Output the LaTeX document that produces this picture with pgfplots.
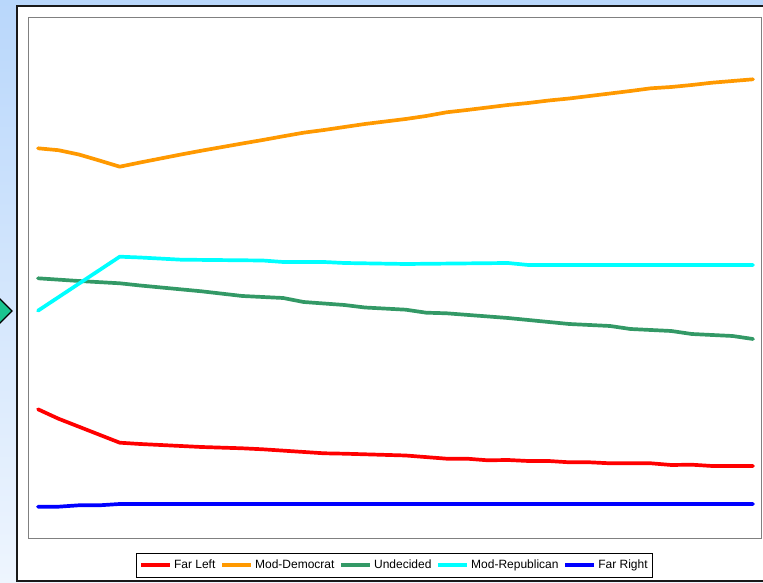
\documentclass[border=0pt]{standalone}
\usepackage{fontspec}
\setmainfont{Liberation Sans}
\usepackage{pgfplots}
\pgfplotsset{compat=1.18}

\definecolor{farleft}{HTML}{FF0000}
\definecolor{moddem}{HTML}{FF9900}
\definecolor{undecided}{HTML}{339966}
\definecolor{modrep}{HTML}{00FFFF}
\definecolor{farright}{HTML}{0000FF}
\definecolor{slidetop}{HTML}{B9D7FB}
\definecolor{slidebottom}{HTML}{EEF5FE}
\definecolor{bullet}{HTML}{19C490}
\definecolor{framegray}{HTML}{808080}

\begin{document}
\begin{tikzpicture}[x=1pt,y=1pt]
\path[use as bounding box] (0,0) rectangle (763,583);
\clip (0,0) rectangle (763,583);
% slide background and bullet
\shade[top color=slidetop, bottom color=slidebottom] (0,0) rectangle (763,583);
\filldraw[fill=bullet, draw=black, line width=1.2pt] (-12,272) -- (0,284) -- (12,272) -- (0,260) -- cycle;
% chart area
\filldraw[fill=white, draw=black!90, line width=2pt] (17,2) rectangle (775,577);

\begin{axis}[
  at={(28pt,44pt)}, anchor=south west,
  width=733pt, height=521pt, scale only axis,
  xmin=-0.49, xmax=35.39, ymin=0, ymax=521,
  xtick=\empty, ytick=\empty,
  axis line style={draw=framegray, line width=1pt},
  every axis plot/.append style={line width=3.7pt, line join=round, line cap=round, mark=none},
  legend columns=5,
  legend style={at={(0.5,-0.0263)}, anchor=north, draw=black, line width=0.8pt,
    font=\fontsize{12}{14}\selectfont, inner xsep=2.5pt, inner ysep=5pt,
    /tikz/every even column/.append style={column sep=3pt}},
  legend image code/.code={\draw[#1, line width=3.7pt, line cap=butt] (0pt,0pt) -- (29pt,0pt);},
]
\addplot[farleft] coordinates {
 (0,129.7) (1,120.3) (4,96.3) (5,95) (8,92) (10,90.7) (11,89.7) (14,85.7) (15,85.3)
 (18,83.5) (20,80.3) (21,80.3) (22,78.7) (23,79) (24,78) (25,78) (26,76.7) (27,76.7)
 (28,75.7) (30,75.7) (31,74) (32,74.3) (33,73) (35,73)};
\addlegendentry{Far Left}
\addplot[moddem] coordinates {
 (0,390.7) (1,388.8) (2,384.5) (3,378.5) (4,372.3) (5,376.5) (6,380.5) (7,384.5) (8,388.3)
 (9,391.9) (10,395.5) (11,399) (12,402.7) (13,406.3) (14,409) (15,412) (16,415) (17,417.5)
 (18,420) (19,423) (20,426.7) (21,429) (22,431.5) (23,434) (24,436) (25,438.5) (26,440.5)
 (27,443) (28,445.5) (29,448) (30,450.7) (31,452) (32,454) (33,456.3) (34,458) (35,459.7)};
\addlegendentry{Mod-Democrat}
\addplot[undecided] coordinates {
 (0,260.7) (2,258) (4,255.7) (5,253.5) (8,247.7) (10,243) (12,241) (13,237) (15,234)
 (16,231.5) (18,229.3) (19,226.3) (20,225.7) (23,221) (26,215) (28,213) (29,210) (31,208)
 (32,205) (34,203) (35,200)};
\addlegendentry{Undecided}
\addplot[modrep] coordinates {
 (0,228.3) (4,282.3) (5,281.5) (7,279.3) (11,278.5) (12,277) (14,277) (15,276) (18,275)
 (23,276) (24,274) (35,274)};
\addlegendentry{Mod-Republican}
\addplot[farright] coordinates {
 (0,32.3) (1,32.3) (2,33.7) (3,33.7) (4,35) (35,35)};
\addlegendentry{Far Right}
\end{axis}
\end{tikzpicture}
\end{document}
